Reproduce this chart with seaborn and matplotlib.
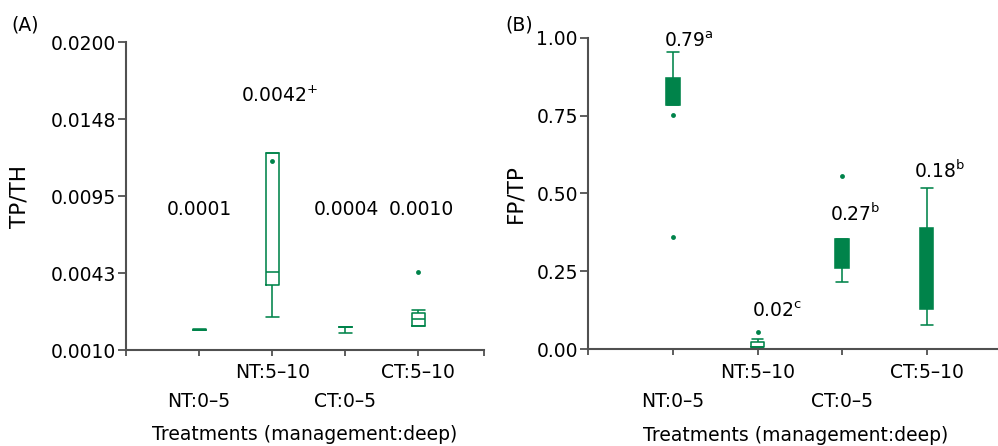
import matplotlib
matplotlib.use("Agg")
import matplotlib.pyplot as plt
import pandas as pd
import seaborn as sns

# ---------------- data ----------------
categories = ["NT:0–5", "NT:5–10", "CT:0–5", "CT:5–10"]

# Panel A  (TP/TH) five-number summaries: min, q1, median, q3, max
tp_th_nt05 = [0.00034, 0.00034, 0.00034, 0.00034, 0.00043]
tp_th_nt510 = [0.00125, 0.00343, 0.00432, 0.01245, 0.01245]
tp_th_ct05 = [0.00018, 0.00055, 0.00055, 0.00055, 0.00055]
tp_th_ct510 = [0.00062, 0.00062, 0.00111, 0.00152, 0.00171]
tp_th_outlier_cat = ["NT:5–10", "CT:5–10"]
tp_th_outlier_val = [0.01191, 0.00432]
tp_th_labels = ["0.0001", "0.0042$^{+}$", "0.0004", "0.0010"]
tp_th_ticks = [-0.0010, 0.00425, 0.0095, 0.01475, 0.0200]
tp_th_ticklabels = ["0.0010", "0.0043", "0.0095", "0.0148", "0.0200"]

# Panel B  (FP/TP)
fp_tp_nt05 = [0.783, 0.783, 0.800, 0.872, 0.953]
fp_tp_nt510 = [0.0064, 0.0064, 0.0064, 0.0234, 0.032]
fp_tp_ct05 = [0.217, 0.261, 0.300, 0.355, 0.355]
fp_tp_ct510 = [0.078, 0.130, 0.250, 0.389, 0.517]
fp_tp_outlier_cat = ["NT:0–5", "NT:0–5", "NT:5–10", "CT:0–5"]
fp_tp_outlier_val = [0.753, 0.360, 0.0555, 0.557]
fp_tp_labels = ["0.79$^{\\mathrm{a}}$", "0.02$^{\\mathrm{c}}$",
                "0.27$^{\\mathrm{b}}$", "0.18$^{\\mathrm{b}}$"]
fp_tp_filled = [True, False, True, True]
fp_tp_ticks = [0.0, 0.25, 0.50, 0.75, 1.00]
fp_tp_ticklabels = ["0.00", "0.25", "0.50", "0.75", "1.00"]

# ---------------- style ----------------
sns.set_style("ticks")
plt.rcParams["font.family"] = ["DejaVu Sans"]
plt.rcParams["mathtext.fontset"] = "dejavusans"
plt.rcParams["text.color"] = "black"
plt.rcParams["axes.labelcolor"] = "black"
plt.rcParams["xtick.labelcolor"] = "black"
plt.rcParams["ytick.labelcolor"] = "black"
GREEN = "#00834a"
SPINE = "#505050"
FS = 13.5

fig = plt.figure(figsize=(9.98, 4.46), dpi=100)
axA = fig.add_axes([0.1263, 0.2152, 0.3587, 0.6906])
axB = fig.add_axes([0.5895, 0.2168, 0.4154, 0.6987])


def long_df(groups):
    rows = []
    for cat, vals in zip(categories, groups):
        for v in vals:
            rows.append({"cat": cat, "val": v})
    return pd.DataFrame(rows)


def style_axis(ax, ylabel, yticks, yticklabels, ylim, ylab_x):
    ax.set_xlim(-1, 3.9)
    ax.set_ylim(*ylim)
    ax.set_xticks([0, 2])
    ax.set_xticklabels([categories[0], categories[2]], fontsize=FS)
    ax.set_xticks([-1, 1, 3, 3.9], minor=True)
    ax.set_xticklabels(["", categories[1], categories[3], ""], minor=True, fontsize=FS)
    ax.tick_params(axis="x", which="major", length=4.5, width=1.3, pad=26, color=SPINE)
    ax.tick_params(axis="x", which="minor", length=4.5, width=1.3, pad=5, color=SPINE)
    ax.set_yticks(yticks)
    ax.set_yticklabels(yticklabels, fontsize=FS)
    ax.tick_params(axis="y", length=5.5, width=1.3, pad=2, color=SPINE)
    sns.despine(ax=ax)
    for s in ("left", "bottom"):
        ax.spines[s].set_linewidth(1.5)
        ax.spines[s].set_color(SPINE)
    ax.set_ylabel(ylabel, fontsize=15.5)
    ax.yaxis.set_label_coords(ylab_x, 0.5)
    ax.set_xlabel("Treatments (management:deep)", fontsize=FS)
    ax.xaxis.set_label_coords(0.5, -0.245)


# ---------------- panel A ----------------
dfA = long_df([tp_th_nt05, tp_th_nt510, tp_th_ct05, tp_th_ct510])
wA = 0.18
sns.boxplot(data=dfA, x="cat", y="val", order=categories, whis=(0, 100),
            width=wA, fill=False, color=GREEN, linewidth=1.15,
            showfliers=False, capwidths=wA, ax=axA)
sns.stripplot(x=tp_th_outlier_cat, y=tp_th_outlier_val, order=categories,
              jitter=False, color=GREEN, size=3.5, linewidth=0, ax=axA)
style_axis(axA, "TP/TH", tp_th_ticks, tp_th_ticklabels, (-0.0010, 0.0200), -0.27)

a_pos = [(0.0, 0.00820, "center"), (0.57, 0.01589, "left"),
         (2.014, 0.00820, "center"), (3.045, 0.00820, "center")]
for lab, (x, y, ha) in zip(tp_th_labels, a_pos):
    axA.text(x, y, lab, ha=ha, va="baseline", fontsize=FS)

# ---------------- panel B ----------------
groupsB = [fp_tp_nt05, fp_tp_nt510, fp_tp_ct05, fp_tp_ct510]
dfB = long_df(groupsB)
filled_cats = [c for c, f in zip(categories, fp_tp_filled) if f]
hollow_cats = [c for c, f in zip(categories, fp_tp_filled) if not f]
wB = 0.157
sns.boxplot(data=dfB[dfB["cat"].isin(filled_cats)], x="cat", y="val",
            order=categories, whis=(0, 100), width=wB, fill=True,
            color=GREEN, linecolor=GREEN, linewidth=1.15, saturation=1,
            showfliers=False, capwidths=wB * 0.88, ax=axB)
sns.boxplot(data=dfB[dfB["cat"].isin(hollow_cats)], x="cat", y="val",
            order=categories, whis=(0, 100), width=wB, fill=False,
            color=GREEN, linewidth=1.15,
            showfliers=False, capwidths=wB * 0.88, ax=axB)
sns.stripplot(x=fp_tp_outlier_cat, y=fp_tp_outlier_val, order=categories,
              jitter=False, color=GREEN, size=3.5, linewidth=0, ax=axB)
style_axis(axB, "FP/TP", fp_tp_ticks, fp_tp_ticklabels, (0.0, 1.0), -0.151)

b_pos = [(-0.11, 0.971), (0.93, 0.1046), (1.855, 0.412), (2.855, 0.551)]
for lab, (x, y) in zip(fp_tp_labels, b_pos):
    axB.text(x, y, lab, ha="left", va="baseline", fontsize=FS)

fig.text(11 / 998, 1 - 25 / 446, "(A)", ha="left", va="center", fontsize=FS)
fig.text(505 / 998, 1 - 25 / 446, "(B)", ha="left", va="center", fontsize=FS)

fig.savefig("out.png", dpi=100)
